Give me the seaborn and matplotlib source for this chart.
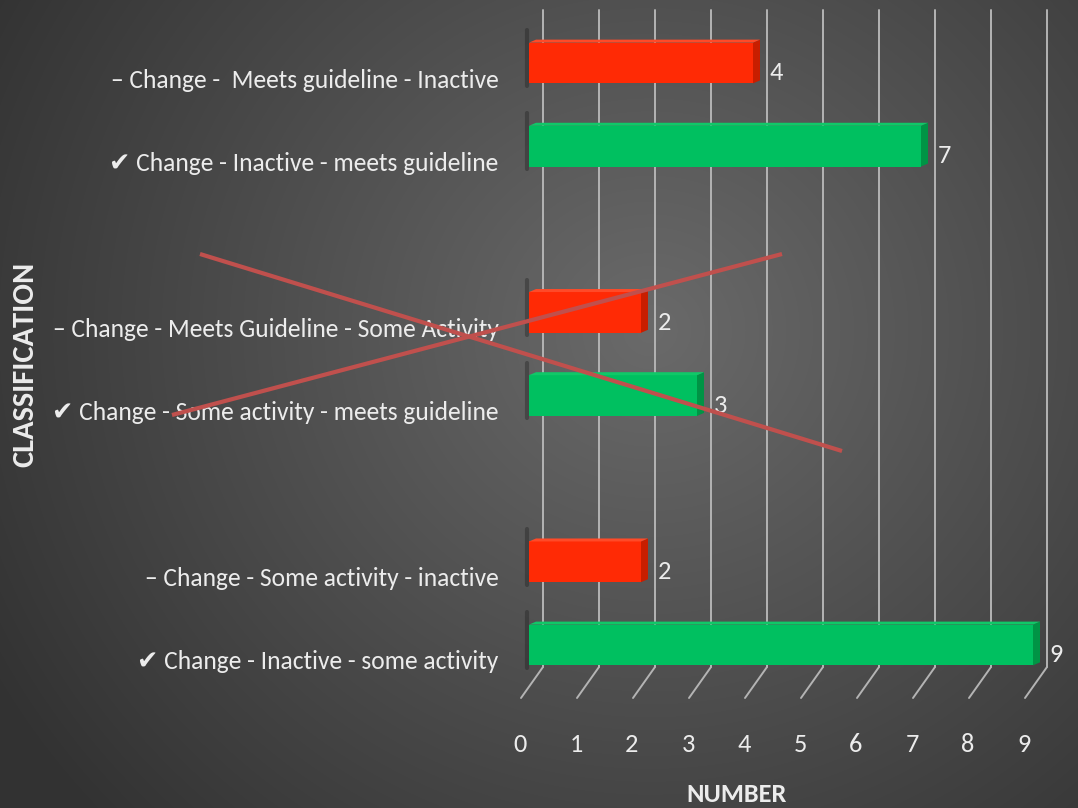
import numpy as np
import pandas as pd
import matplotlib
matplotlib.use("Agg")
import matplotlib.pyplot as plt
import seaborn as sns
from matplotlib import font_manager as fm
from matplotlib.transforms import ScaledTranslation
from matplotlib.patches import Polygon
from matplotlib.lines import Line2D

# ---------------- data ----------------
categories = [
    "– Change -  Meets guideline - Inactive",
    "✔ Change - Inactive - meets guideline",
    "– Change - Meets Guideline - Some Activity",
    "✔ Change - Some activity - meets guideline",
    "– Change - Some activity - inactive",
    "✔ Change - Inactive - some activity",
]
values = [4, 7, 2, 3, 2, 9]
groups = ["no", "yes", "no", "yes", "no", "yes"]
# category order on the axis, blanks separate the three pairs
axis_order = [categories[0], categories[1], " ",
              categories[2], categories[3], "  ",
              categories[4], categories[5]]
x_ticks = list(range(10))
x_label = "NUMBER"
y_label = "CLASSIFICATION"

palette = {"no": "#ff2a05", "yes": "#00c060"}
side_col = {"no": "#c81e00", "yes": "#009445"}
top_col = {"no": "#ff4a28", "yes": "#10c868"}

df = pd.DataFrame({"cat": categories, "val": values, "grp": groups})

W, H, DPI = 1078, 808, 100
sns.set_theme(style="dark")
installed = {f.name for f in fm.fontManager.ttflist}
prefs = ["Carlito", "Liberation Sans Narrow", "Archivo Narrow", "PT Sans Narrow"]
main_font = next((f for f in prefs if f in installed), "DejaVu Sans")
plt.rcParams["font.family"] = [main_font, "DejaVu Sans"]
k = 1.0 if main_font == "Carlito" else (0.92 if main_font != "DejaVu Sans" else 0.75)
fs_cat = 18.4 * k
fs_num = 19 * k
fs_xl = 19 * k
fs_yl = 22 * k

fig = plt.figure(figsize=(W / DPI, H / DPI), dpi=DPI)
fig.patch.set_facecolor("#444444")

# radial gradient background
bg = fig.add_axes([0, 0, 1, 1], zorder=-10)
yy, xx = np.mgrid[0:H, 0:W]
r = np.sqrt((xx - 650) ** 2 + ((yy - 330) / 0.95) ** 2)
t = np.clip(r / 760.0, 0, 1)
shade = 0x6a * (1 - t) + 0x32 * t
img = np.dstack([shade, shade, shade]) / 255.0
bg.imshow(img, aspect="auto", extent=[0, 1, 0, 1], origin="upper")
bg.axis("off")

# main axes geometry (pixels)
px_left, px_right, px_top, px_bot = 529, 1060, 10, 675
ax = fig.add_axes([px_left / W, 1 - px_bot / H,
                   (px_right - px_left) / W, (px_bot - px_top) / H])
ax.set_facecolor("none")

sns.barplot(data=df, y="cat", x="val", hue="grp", order=axis_order,
            palette=palette, dodge=False, width=0.49, legend=False,
            saturation=1, ax=ax, linewidth=0, zorder=3)

ux = 56.0        # px per x unit
uy = 83.14       # px per category slot
y0px = 63        # pixel of first slot centre
ax.set_xlim(0, (px_right - px_left) / ux)
ax.set_ylim((px_bot - y0px) / uy, (px_top - y0px) / uy)

# back wall gridlines and floor diagonals
gx = 14 / ux
y_back_bot = (667 - y0px) / uy
y_front = (698 - y0px) / uy
fx = -8 / ux
for v in x_ticks:
    ax.plot([v + gx, v + gx], [(px_top - y0px) / uy, y_back_bot],
            color="#b4b4b4", lw=1.4, zorder=1, clip_on=False)
    ax.plot([v + gx, v + fx], [y_back_bot, y_front],
            color="#b4b4b4", lw=1.4, zorder=1, clip_on=False)

# 3D faces, shadows and value labels
dx = 7 / ux
dy = 3 / uy
for p in ax.patches:
    w = p.get_width()
    if not np.isfinite(w) or w <= 0:
        continue
    yb = p.get_y()
    ht = p.get_height()
    ytop, ybot = yb, yb + ht
    fc = p.get_facecolor()
    g = "no" if fc[0] > 0.5 else "yes"
    ax.add_patch(Polygon([[w, ytop], [w + dx, ytop - dy], [w + dx, ybot - dy], [w, ybot]],
                         closed=True, fc=side_col[g], ec="none", zorder=3))
    ax.add_patch(Polygon([[0, ytop], [dx, ytop - dy], [w + dx, ytop - dy], [w, ytop]],
                         closed=True, fc=top_col[g], ec="none", zorder=3))
    ax.plot([-2 / ux, -2 / ux], [ytop - 0.15, ybot + 0.03], color="#1a1a1a",
            lw=3, alpha=0.35, zorder=2, clip_on=False, solid_capstyle="round")
    ax.annotate(f"{w:g}", xy=(w, yb + ht / 2), xytext=(12, -7),
                textcoords="offset points", ha="left", va="center",
                color="#ececec", fontsize=fs_num, zorder=5)

# ticks
ax.set_xticks(x_ticks)
ax.set_xticklabels([str(v) for v in x_ticks])
ax.tick_params(axis="both", length=0, colors="#ececec")
ax.tick_params(axis="x", pad=42, labelsize=fs_num)
ax.tick_params(axis="y", pad=22, labelsize=fs_cat)
for lab in ax.get_xticklabels():
    lab.set_transform(lab.get_transform() + ScaledTranslation(-9 / DPI, 0, fig.dpi_scale_trans))
for lab in ax.get_yticklabels():
    lab.set_transform(lab.get_transform() + ScaledTranslation(0, -15 / DPI, fig.dpi_scale_trans))
    lab.set_color("#ececec")

ax.set_xlabel(x_label, color="#ececec", fontsize=fs_xl, fontweight="bold")
ax.xaxis.set_label_coords((737 - px_left) / (px_right - px_left),
                          (px_bot - 795) / (px_bot - px_top))
ax.xaxis.label.set_va("center")
ax.set_ylabel(y_label, color="#ececec", fontsize=fs_yl, fontweight="bold")
ax.yaxis.set_label_coords((25 - px_left) / (px_right - px_left),
                          (px_bot - 364) / (px_bot - px_top))
ax.yaxis.label.set_va("center")

ax.grid(False)
for s in ax.spines.values():
    s.set_visible(False)

# red cross-out annotation
for (x1, y1), (x2, y2) in [((200, 254), (842, 451)), ((172, 415), (782, 254))]:
    fig.add_artist(Line2D([x1 / W, x2 / W], [1 - y1 / H, 1 - y2 / H],
                          transform=fig.transFigure, color="#c0504d", lw=3.0,
                          zorder=20, solid_capstyle="butt"))

fig.savefig("out.png", dpi=DPI)
